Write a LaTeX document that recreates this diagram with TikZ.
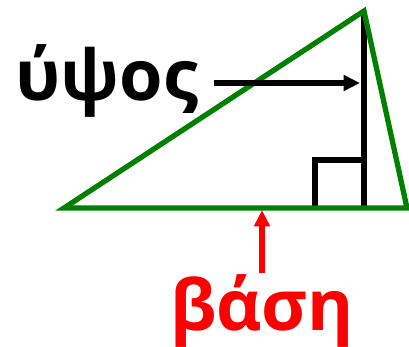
\documentclass[tikz,border=0pt]{standalone}
\usepackage{fontspec}
\setmainfont{Open Sans}
\usetikzlibrary{arrows.meta}
\begin{document}
\begin{tikzpicture}[>={Triangle[length=14pt,width=13pt]},x=0.03cm,y=-0.03cm]
    \useasboundingbox (0,0) rectangle (409,347);
    \coordinate (A) at (64,208);
    \coordinate (B) at (407,208);
    \coordinate (C) at (364,11);
    \coordinate (H) at (364,208);
    \coordinate (P) at (360,83);
    \coordinate (M) at (262,210);
    \draw[black,line width=4.3pt] (C) -- (H);
    \draw[black,line width=4.3pt] (315,208) |- (364,160);
    \draw[green!50!black,line width=4.5pt] (A) -- (B) -- (C) -- cycle;
    \node[font=\bfseries\fontsize{60}{64}\selectfont,inner xsep=13pt,inner ysep=0pt] (h) at (107,81) {ύψος};
    \node[font=\bfseries\fontsize{60}{64}\selectfont,text=red,inner xsep=0pt,inner ysep=1pt] (b) at (262,311) {βάση};
    \draw[->,line width=4.3pt] (h.east |- P) -- (P);
    \draw[->,red,line width=4.3pt] (b.north) -- (M);
\end{tikzpicture}
\end{document}
